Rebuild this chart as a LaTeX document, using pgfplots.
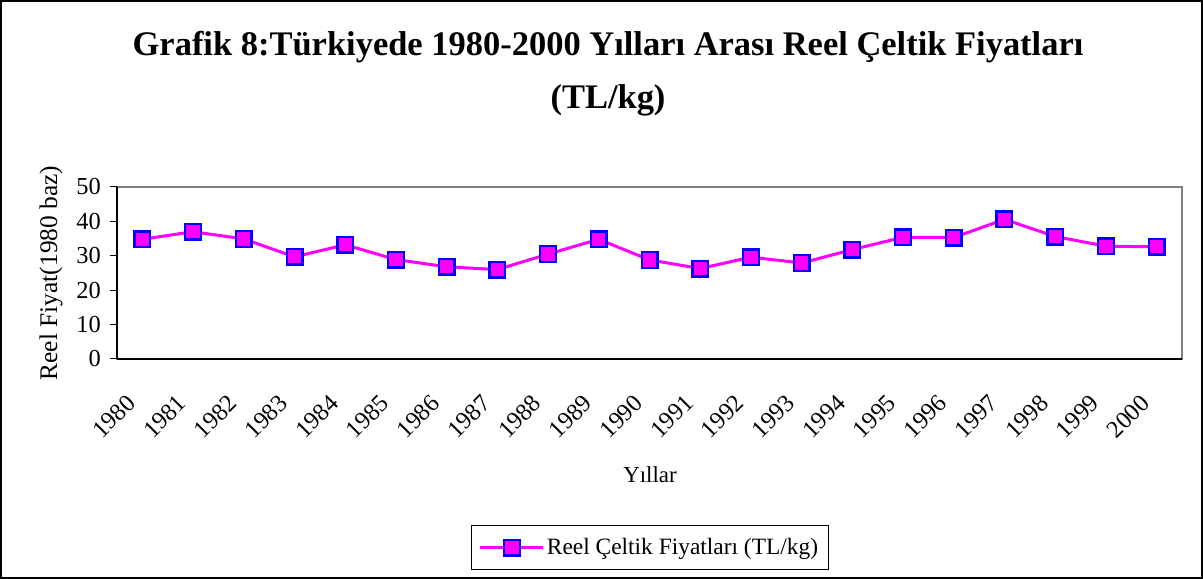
\documentclass[border=0pt]{standalone}
\usepackage{pgfplots}
\pgfplotsset{compat=1.18}
\usepackage{fontspec}
\setmainfont{Liberation Serif}
\definecolor{mag}{RGB}{255,0,255}
\definecolor{blu}{RGB}{0,0,255}
\begin{document}
\begin{tikzpicture}[x=1bp,y=1bp]
\useasboundingbox (0,0) rectangle (1203,579);
\draw[black, line width=1.2bp] (1,1) rectangle (1202,578);
\node[font=\fontsize{34.6}{40}\bfseries\selectfont] at (608,532) {Grafik 8:Türkiyede 1980-2000 Yılları Arası Reel Çeltik Fiyatları};
\node[font=\fontsize{34.6}{40}\bfseries\selectfont] at (608,479) {(TL/kg)};
\node[font=\fontsize{25.5}{30}\selectfont, rotate=90] at (51,306) {Reel Fiyat(1980 baz)};
\node[font=\fontsize{23}{28}\selectfont] at (650,104) {Yıllar};
\begin{axis}[
  at={(117bp,220bp)}, anchor=south west,
  width=1065bp, height=172bp, scale only axis,
  xmin=-0.5, xmax=20.5, ymin=0, ymax=50,
  ytick={0,10,...,50},
  xtick={0,...,20},
  xticklabels={1980,1981,1982,1983,1984,1985,1986,1987,1988,1989,1990,1991,1992,1993,1994,1995,1996,1997,1998,1999,2000},
  xtick style={draw=none},
  extra x ticks={-0.5,0.5,...,20.5},
  extra x tick labels={},
  extra x tick style={tick style={draw=black, line width=1bp}, major tick length=8bp},
  axis x line*=bottom, axis y line*=left,
  axis line style={black, line width=1.5bp, -},
  tick align=outside, major tick length=7bp,
  ytick style={draw=black, line width=1bp},
  axis background/.style={draw=gray, line width=2.2bp},
  /pgf/number format/assume math mode=true,
  ticklabel style={font=\fontsize{24.5}{28}\selectfont},
  x tick label style={xshift=-17bp, yshift=-27bp, rotate=45, anchor=north east, inner sep=0bp},
  y tick label style={inner sep=3bp, xshift=-6bp},
  legend style={at={(0.5,-1.096)}, anchor=center, draw=black, line width=0.8bp, font=\fontsize{23.5}{28}\selectfont, inner xsep=8bp, inner ysep=11bp},
  legend image code/.code={\draw[mark repeat=2,mark phase=2,#1] plot coordinates {(0bp,0bp) (31.5bp,0bp) (63bp,0bp)};},
  clip=false,
]
\addplot[mag, line width=3bp, mark=square*, mark size=7.8bp,
  mark options={fill=mag, draw=blu, line width=2.4bp}]
coordinates {
(0,34.8)(1,37.0)(2,34.9)(3,29.7)(4,33.2)(5,28.9)(6,26.8)(7,26.0)(8,30.5)(9,34.8)
(10,28.8)(11,26.3)(12,29.6)(13,27.9)(14,31.8)(15,35.4)(16,35.3)(17,40.6)(18,35.6)(19,32.8)(20,32.6)};
\addlegendentry{Reel Çeltik Fiyatları (TL/kg)}
\end{axis}
\end{tikzpicture}
\end{document}
